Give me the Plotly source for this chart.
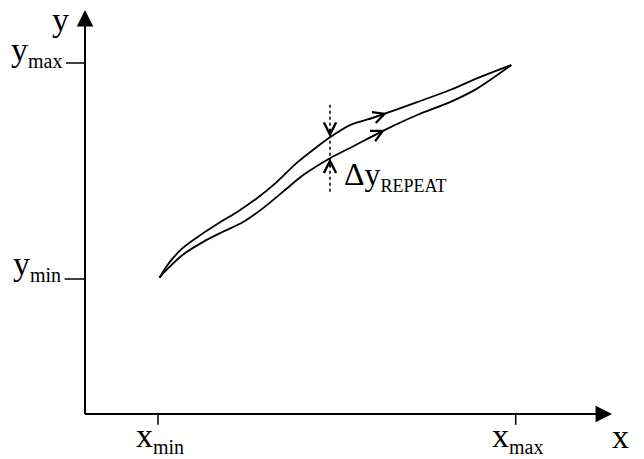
import numpy as np
import plotly.graph_objects as go

# Axis-limit values (schematic units)
X_MIN, X_MAX = 1.0, 5.9
Y_MIN, Y_MAX = 2.0, 5.2

# Upward (first pass) and downward (second pass) traces of the same measurement
upper_x = [1.02, 1.16, 1.34, 1.58, 1.85, 2.08, 2.36, 2.63, 2.90, 3.18, 3.356, 3.63, 3.86, 4.137, 4.55, 5.00, 5.41, 5.84]
upper_y = [2.02, 2.25, 2.46, 2.65, 2.84, 2.99, 3.20, 3.44, 3.72, 3.96, 4.10, 4.28, 4.36, 4.46, 4.62, 4.80, 4.99, 5.17]

lower_x = [1.02, 1.14, 1.34, 1.62, 1.89, 2.16, 2.44, 2.71, 2.99, 3.356, 3.63, 4.11, 4.55, 5.00, 5.37, 5.84]
lower_y = [2.02, 2.16, 2.36, 2.55, 2.70, 2.84, 3.05, 3.29, 3.54, 3.79, 3.94, 4.21, 4.43, 4.62, 4.82, 5.17]

# Where the repeatability gap is marked, and where the direction marks sit
X_GAP = 3.356
X_DIR_UP = 4.137
X_DIR_LO = 4.11

FONT = "Liberation Serif"
INK = "black"

fig = go.Figure()
for xs, ys in ((upper_x, upper_y), (lower_x, lower_y)):
    fig.add_trace(go.Scatter(
        x=xs, y=ys, mode="lines",
        line=dict(color=INK, width=1.8, shape="spline", smoothing=0.9),
        hoverinfo="skip", showlegend=False,
    ))

# Axis extents
X_END, Y_END = 7.22, 5.985
X_LO, X_HI = -85 / 73, 559 / 73
Y_LO, Y_HI = -45 / 67.5, 414 / 67.5

annotations = []


def arrow(x, y, ax, ay, head, size, width, data_tail=True):
    d = dict(x=x, y=y, text="", showarrow=True, arrowhead=head,
             arrowsize=size, arrowwidth=width, arrowcolor=INK)
    if data_tail:
        d.update(ax=ax, ay=ay, axref="x", ayref="y")
    else:
        d.update(ax=ax, ay=ay)
    annotations.append(d)


# Axes with filled arrowheads
arrow(X_END, 0, 0, 0, 2, 1.65, 2)
arrow(0, Y_END, 0, 0, 2, 1.65, 2)

# Gap arrows on the dotted line
y_up_gap = float(np.interp(X_GAP, upper_x, upper_y))
y_lo_gap = float(np.interp(X_GAP, lower_x, lower_y))
arrow(X_GAP, y_up_gap, 0, -10, 5, 1.6, 1.5, data_tail=False)
arrow(X_GAP, y_lo_gap, 0, 10, 5, 1.6, 1.5, data_tail=False)

# Direction chevrons on both traces
arrow(X_DIR_UP, float(np.interp(X_DIR_UP, upper_x, upper_y)), -20, 7, 5, 1.5, 1.5, data_tail=False)
arrow(X_DIR_LO, float(np.interp(X_DIR_LO, lower_x, lower_y)), -20, 10, 5, 1.5, 1.5, data_tail=False)


def label(text, x, y, xa, ya, size=34):
    annotations.append(dict(x=x, y=y, text=text, showarrow=False,
                            xanchor=xa, yanchor=ya,
                            font=dict(family=FONT, size=size, color=INK)))


def sub(main, low, px):
    return f"{main}<sub><span style='font-size:{px}px'>{low}</span></sub>"


label("y", -0.34, 5.84, "center", "middle")
label("x", 7.34, -0.34, "center", "middle")
label(sub("y", "max", 20), -0.29, Y_MAX + 0.17, "right", "middle")
label(sub("y", "min", 20), -0.30, Y_MIN + 0.2, "right", "middle")
label(sub("x", "min", 20), X_MIN + 0.03, -0.35, "center", "middle")
label(sub("x", "max", 20), X_MAX + 0.02, -0.35, "center", "middle")
label(sub("Δy", "REPEAT", 18), X_GAP + 0.17, y_lo_gap - 0.26, "left", "middle", size=32)

shapes = [
    # axis lines
    dict(type="line", x0=0, y0=0, x1=X_END - 0.1, y1=0, line=dict(color=INK, width=2)),
    dict(type="line", x0=0, y0=0, x1=0, y1=Y_END - 0.1, line=dict(color=INK, width=2)),
    # limit ticks
    dict(type="line", x0=-0.26, y0=Y_MAX, x1=0, y1=Y_MAX, line=dict(color=INK, width=1.5)),
    dict(type="line", x0=-0.28, y0=Y_MIN, x1=0, y1=Y_MIN, line=dict(color=INK, width=1.5)),
    dict(type="line", x0=X_MIN, y0=0, x1=X_MIN, y1=-0.16, line=dict(color=INK, width=1.5)),
    dict(type="line", x0=X_MAX, y0=0, x1=X_MAX, y1=-0.16, line=dict(color=INK, width=1.5)),
    # dotted gap line
    dict(type="line", x0=X_GAP, y0=4.58, x1=X_GAP, y1=3.29,
         line=dict(color=INK, width=1.5, dash="dot")),
]

fig.update_layout(
    width=644, height=459,
    margin=dict(l=0, r=0, t=0, b=0),
    paper_bgcolor="white", plot_bgcolor="white",
    xaxis=dict(range=[X_LO, X_HI], visible=False, fixedrange=True),
    yaxis=dict(range=[Y_LO, Y_HI], visible=False, fixedrange=True),
    annotations=annotations,
    shapes=shapes,
    showlegend=False,
)

fig.write_html("out.html")
